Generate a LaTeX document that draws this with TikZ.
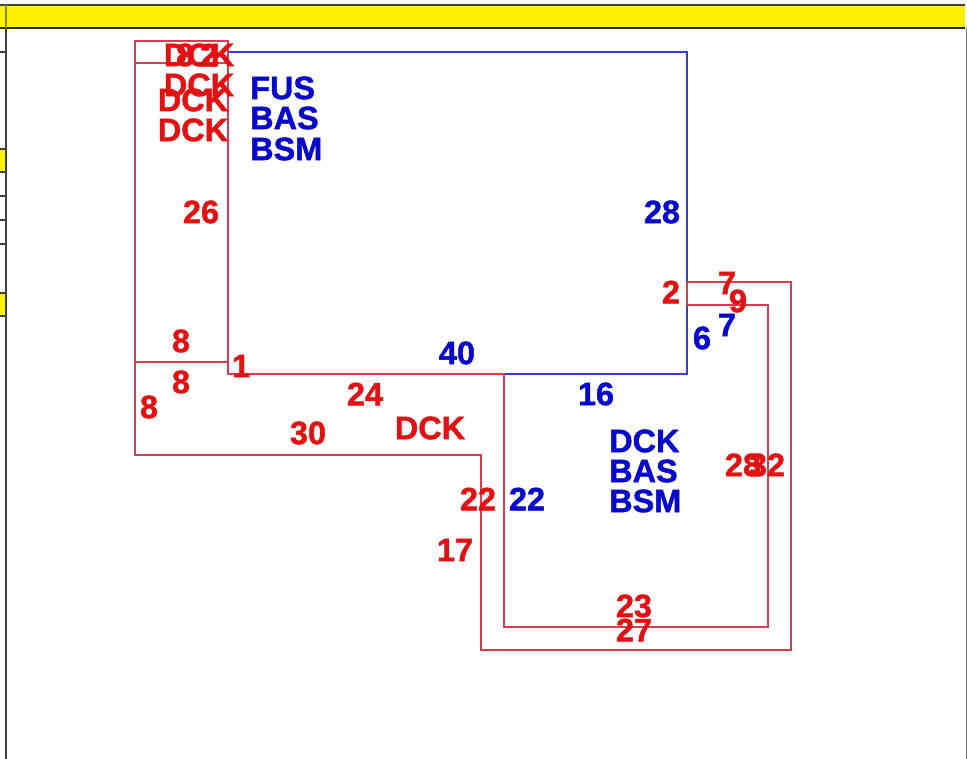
\documentclass[tikz,border=0pt]{standalone}
\usepackage{fontspec}
\setmainfont[BoldFont={Liberation Sans Bold},BoldFeatures={FakeBold=1.4}]{Liberation Sans}
\definecolor{linered}{HTML}{DC3A4E}
\definecolor{lineblue}{HTML}{3A3AE0}
\definecolor{textred}{HTML}{E21212}
\definecolor{textblue}{HTML}{0808CC}
\definecolor{olive}{HTML}{8A8A00}
\tikzset{
  rd/.style={draw=linered,line width=1pt},
  bl/.style={draw=lineblue,line width=0.9pt},
  tr/.style={text=textred,font=\fontsize{24.3pt}{25pt}\selectfont\bfseries,inner sep=0pt},
  tb/.style={text=textblue,font=\fontsize{24.3pt}{25pt}\selectfont\bfseries,inner sep=0pt},
  grid/.style={draw=black!75,line width=1pt},
  hl/.style={fill=yellow,draw=none}
}
\begin{document}
\begin{tikzpicture}[x=0.75pt,y=-0.75pt]
\useasboundingbox (0,0) rectangle (967,759);
\fill[white] (0,0) rectangle (967,759);
% table frame
\fill[hl] (0,5) rectangle (965,28);
\fill[hl] (0,149) rectangle (6,172);
\fill[hl] (0,293) rectangle (6,316);
\draw[grid] (0,5) -- (965,5);
\draw[draw=black!70!olive,line width=1.2pt] (0,28) -- (965,28);
\foreach \y in {52,172,196,220,244,316} \draw[grid] (0,\y) -- (6,\y);
\foreach \y in {149,293} \draw[grid] (0,\y) -- (6,\y);
\draw[grid] (6,28) -- (6,759);
\draw[draw=olive,line width=1pt] (6,5) -- (6,28);
\draw[draw=black!55,line width=1pt] (966.4,28) -- (966.4,759);
% outlines
\draw[bl] (228,52) -- (687,52) -- (687,374) -- (504,374);
\draw[rd] (135,41) rectangle (228,63);
\draw[rd] (135,63) -- (135,455) -- (481,455) -- (481,650) -- (791,650) -- (791,282) -- (687,282);
\draw[rd] (135,362) -- (228,362);
\draw[rd] (228,63) -- (228,374) -- (504,374) -- (504,627) -- (768,627) -- (768,305) -- (687,305);
\draw[rd] (687,282) -- (687,305);
% labels
\node[tr] (a2) at (185,55) {8};
\node[tr] (a3) at (209,55) {2};
\node[tr] (a1) at (199,55) {DCK};
\node[tr] (a4) at (199,85) {DCK};
\node[tr] (a5) at (193,100) {DCK};
\node[tr] (a6) at (193,130) {DCK};
\node[tb,anchor=west] (b1) at (250,88) {FUS};
\node[tb,anchor=west] (b2) at (250,118) {BAS};
\node[tb,anchor=west] (b3) at (250,149) {BSM};
\node[tr] (n26) at (201,212) {26};
\node[tb] (n28) at (662,212) {28};
\node[tr] (n2) at (671,292) {2};
\node[tr] (n7a) at (727,283) {7};
\node[tr] (n9) at (738,301) {9};
\node[tb] (n7b) at (727,325) {7};
\node[tb] (n6) at (702,338) {6};
\node[tr] (n8a) at (181,341) {8};
\node[tr] (n8b) at (181,382) {8};
\node[tr] (n8c) at (149,407) {8};
\node[tr] (n1) at (241,366) {1};
\node[tb] (n40) at (457,353) {40};
\node[tr] (n24) at (365,394) {24};
\node[tb] (n16) at (596,394) {16};
\node[tr] (n30) at (308,433) {30};
\node[tr] (d) at (430,428) {DCK};
\node[tb,anchor=west] (c1) at (609,441) {DCK};
\node[tb,anchor=west] (c2) at (609,471) {BAS};
\node[tb,anchor=west] (c3) at (609,501) {BSM};
\node[tr] (n28b) at (743,465) {28};
\node[tr] (n32) at (767,465) {32};
\node[tr] (n22a) at (478,499) {22};
\node[tb] (n22b) at (527,499) {22};
\node[tr] (n17) at (455,550) {17};
\node[tr] (n23) at (634,606) {23};
\node[tr] (n27) at (634,630) {27};
\end{tikzpicture}
\end{document}
